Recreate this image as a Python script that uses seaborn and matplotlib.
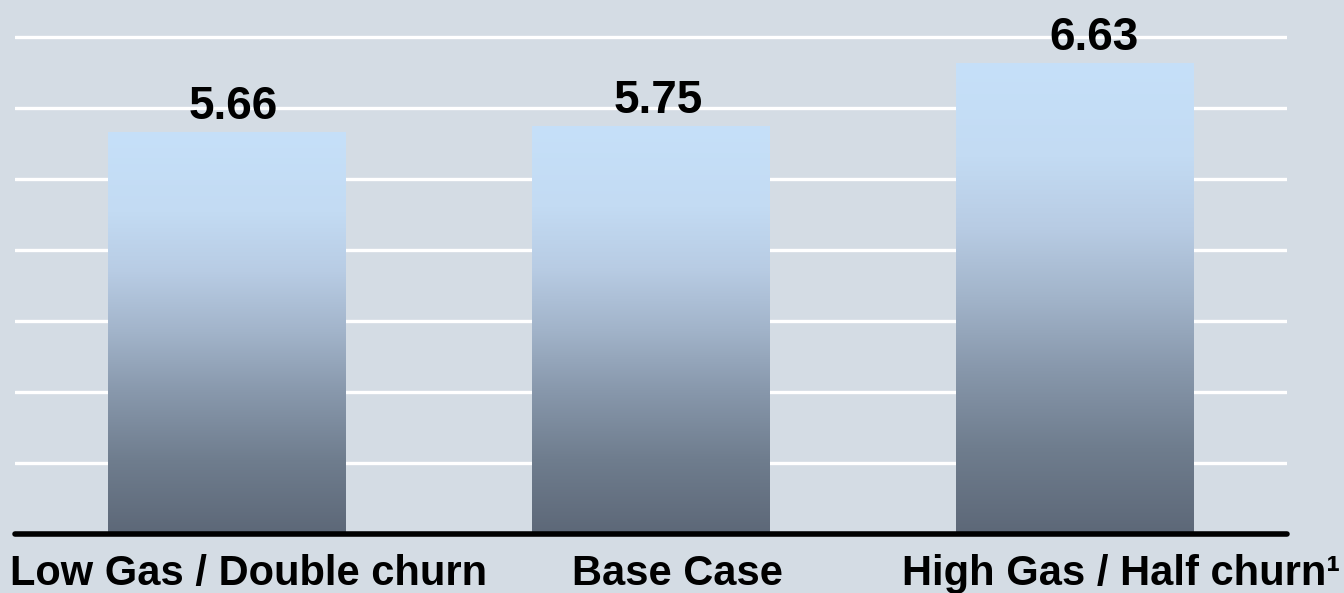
import matplotlib
matplotlib.use("Agg")
import matplotlib.pyplot as plt
from matplotlib.transforms import ScaledTranslation
from matplotlib.colors import LinearSegmentedColormap
import numpy as np
import pandas as pd
import seaborn as sns

# Scenario results
categories = ["Low Gas / Double churn", "Base Case", "High Gas / Half churn\u00b9"]
values = [5.66, 5.75, 6.63]

# Styling
BG = "#D4DCE4"
GRADIENT_STOPS = [(0.0, "#C6E0F9"), (0.2, "#C3DBF3"), (0.35, "#B8CCE4"),
                  (0.5, "#A2B4CA"), (0.65, "#8898AC"), (0.82, "#6F7D8E"),
                  (1.0, "#5D6878")]
label_shift_px = [22, 26, 46]      # horizontal nudges of the category labels
value_shift_pt = [4.5, 5, 14]      # horizontal nudges of the value labels

sns.set_style("white", {"axes.facecolor": BG, "figure.facecolor": BG})
plt.rcParams["font.family"] = ["Liberation Sans", "DejaVu Sans"]

fig = plt.figure(figsize=(13.44, 5.93), dpi=100, facecolor=BG)
ax = fig.add_axes([15 / 1344, (593 - 533.5) / 593, 1272 / 1344, 533.5 / 593])
ax.set_facecolor(BG)

df = pd.DataFrame({"scenario": categories, "value": values})
sns.barplot(data=df, x="scenario", y="value", ax=ax, width=0.56,
            color="white", errorbar=None, zorder=2)

# Vertical gradient fill for every bar, clipped to the bar shape
cmap = LinearSegmentedColormap.from_list("bar_fade", GRADIENT_STOPS)
grad = cmap(np.linspace(0, 1, 256))[:, None, :3]
for patch in ax.patches:
    x0, w, h = patch.get_x(), patch.get_width(), patch.get_height()
    patch.set_facecolor("none")
    patch.set_edgecolor("none")
    im = ax.imshow(grad, extent=[x0, x0 + w, 0, h], origin="upper",
                   aspect="auto", zorder=2, interpolation="bilinear")
    im.set_clip_path(patch)

ax.set_xlim(-0.5, 2.5)
ax.set_ylim(0, 7.52)

# White horizontal gridlines, black baseline
ax.set_yticks(range(1, 8))
ax.yaxis.grid(True, color="white", linewidth=2.4)
ax.xaxis.grid(False)
ax.set_axisbelow(True)
for s in ax.spines.values():
    s.set_visible(False)
ax.axhline(0, color="black", linewidth=4, solid_capstyle="round",
           clip_on=False, zorder=5)

ax.set_xlabel("")
ax.set_ylabel("")
ax.tick_params(axis="y", left=False, labelleft=False)
ax.tick_params(axis="x", bottom=False, pad=11.5, labelsize=30)
for lbl, dx in zip(ax.get_xticklabels(), label_shift_px):
    lbl.set_fontweight("bold")
    lbl.set_color("black")
    lbl.set_transform(lbl.get_transform()
                      + ScaledTranslation(dx / 100, 0, fig.dpi_scale_trans))

# Value labels above the bars
for i, (v, dx) in enumerate(zip(values, value_shift_pt)):
    ax.annotate(f"{v:.2f}", xy=(i, v), xytext=(dx, 2),
                textcoords="offset points", ha="center", va="bottom",
                fontsize=33, fontweight="bold", color="black", zorder=6)

fig.savefig("out.png", dpi=100, facecolor=BG)
